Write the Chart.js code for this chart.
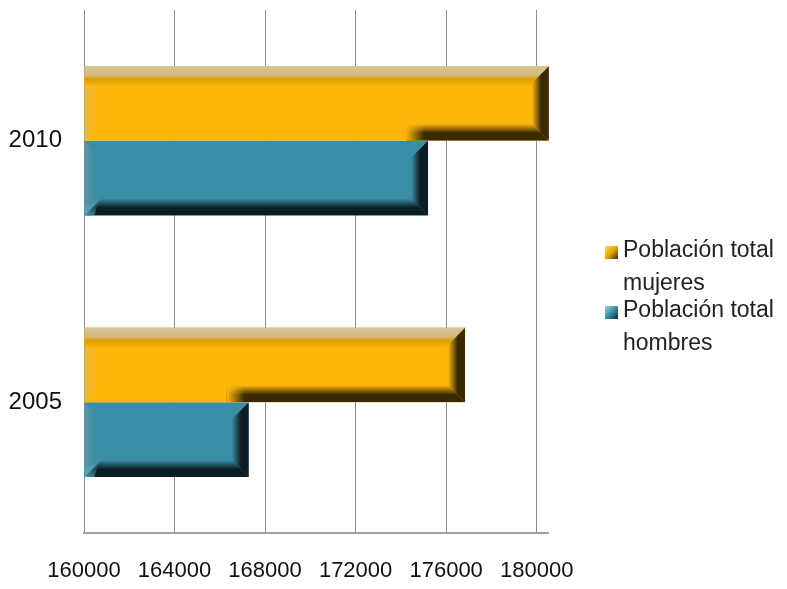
<!DOCTYPE html>
<html>
<head>
<meta charset="utf-8">
<script src="https://cdn.jsdelivr.net/npm/chart.js@4/dist/chart.umd.min.js"></script>
<style>
  body { margin: 0; background: #fff; }
</style>
</head>
<body>
<canvas id="barChart" width="787" height="589"></canvas>
<script>
const years = ["2010", "2005"];
const mujeres = [180540, 176840];
const hombres = [175200, 167280];
const xTicks = [160000, 164000, 168000, 172000, 176000, 180000];
const seriesNames = [["Población total", "mujeres"], ["Población total", "hombres"]];

const gold = {
  base: "#FDB70B", fade: "rgba(253,183,11,0)",
  left: "rgba(214,186,110,0.9)", top: true,
  dark: "rgba(48,34,0,0.95)", darkFade: "rgba(48,34,0,0)"
};
const teal = {
  base: "#3A8FA6", fade: "rgba(58,143,166,0)",
  left: "rgba(108,148,158,0.85)", top: false,
  dark: "rgba(10,26,32,0.97)", darkFade: "rgba(10,26,32,0)"
};

function barRect(el) {
  const p = el.getProps(["x", "y", "base", "height"], true);
  return {
    l: Math.min(p.x, p.base), r: Math.max(p.x, p.base),
    t: p.y - p.height / 2, b: p.y + p.height / 2
  };
}

function poly(ctx, pts, fill) {
  ctx.beginPath();
  ctx.moveTo(pts[0][0], pts[0][1]);
  for (let i = 1; i < pts.length; i++) ctx.lineTo(pts[i][0], pts[i][1]);
  ctx.closePath();
  ctx.fillStyle = fill;
  ctx.fill();
}

// fake the 3d bevel of the original bars
function shadeBar(ctx, el, pal, cutX) {
  const { l, r, t, b } = barRect(el);
  const e = 17;
  ctx.save();
  ctx.beginPath();
  ctx.rect(l, t, r - l, b - t);
  ctx.clip();

  // right edge
  let g = ctx.createLinearGradient(r - e, 0, r, 0);
  g.addColorStop(0, pal.darkFade);
  g.addColorStop(0.55, pal.dark);
  g.addColorStop(1, pal.dark);
  poly(ctx, [[r - e, t + e], [r, t], [r, b], [r - e, b - e]], g);

  // bottom edge
  let sx = cutX != null ? Math.min(cutX - 22, r - e) : l;
  g = ctx.createLinearGradient(0, b - e, 0, b);
  g.addColorStop(0, pal.darkFade);
  g.addColorStop(0.55, pal.dark);
  g.addColorStop(1, pal.dark);
  poly(ctx, [[sx + (cutX != null ? 0 : e), b - e], [r - e, b - e], [r, b], [sx, b]], g);
  if (cutX != null) {
    g = ctx.createLinearGradient(sx, 0, sx + 18, 0);
    g.addColorStop(0, pal.base);
    g.addColorStop(1, pal.fade);
    ctx.fillStyle = g;
    ctx.fillRect(sx, b - e, 18, e);
  }

  // left edge
  g = ctx.createLinearGradient(l, 0, l + 15, 0);
  g.addColorStop(0, pal.left);
  g.addColorStop(1, pal.fade);
  poly(ctx, [[l, t], [l + 15, t + 15], [l + 15, b - 15], [l, b]], g);
  if (!pal.top) {
    g = ctx.createLinearGradient(l, b, l + 14, b - 14);
    g.addColorStop(0, "rgba(80,170,195,0.9)");
    g.addColorStop(1, "rgba(80,170,195,0)");
    poly(ctx, [[l, b], [l, b - 10], [l + 14, b - 14], [l + 10, b]], g);
  }

  // top edge, light band
  if (pal.top) {
    g = ctx.createLinearGradient(0, t, 0, t + 22);
    g.addColorStop(0, "rgb(214,197,150)");
    g.addColorStop(0.42, "rgb(210,186,125)");
    g.addColorStop(0.58, "rgb(218,158,2)");
    g.addColorStop(0.8, "rgb(240,172,6)");
    g.addColorStop(1, pal.fade);
    poly(ctx, [[l, t], [r, t], [r - 22, t + 22], [l, t + 22]], g);
  }
  ctx.restore();
}

const bevel = {
  id: "bevel",
  afterDatasetsDraw(chart) {
    const ctx = chart.ctx;
    const m0 = chart.getDatasetMeta(0);
    const m1 = chart.getDatasetMeta(1);
    m0.data.forEach((el, i) => shadeBar(ctx, el, gold, barRect(m1.data[i]).r));
    m1.data.forEach((el) => shadeBar(ctx, el, teal, null));
  }
};

// legend with wrapped labels, drawn at the right of the plot
const sideLegend = {
  id: "sideLegend",
  afterDraw(chart) {
    const ctx = chart.ctx;
    const x0 = chart.chartArea.right + 57;
    const tops = [246, 306];
    const pals = [["#F4D480", "#E9A800", "#3A2800"], ["#A6CCD6", "#3A8FA6", "#0B2A33"]];
    ctx.save();
    seriesNames.forEach((lines, i) => {
      const y = tops[i];
      const g = ctx.createLinearGradient(x0, y, x0 + 13, y + 13);
      g.addColorStop(0, pals[i][0]);
      g.addColorStop(0.5, pals[i][1]);
      g.addColorStop(1, pals[i][2]);
      ctx.fillStyle = g;
      ctx.fillRect(x0, y, 13, 13);
      ctx.fillStyle = "#222";
      ctx.font = '23px "Liberation Sans", sans-serif';
      ctx.textBaseline = "middle";
      ctx.textAlign = "left";
      lines.forEach((txt, k) => ctx.fillText(txt, x0 + 18, y + 5 + k * 33));
    });
    ctx.restore();
  }
};

const ctx = document.getElementById("barChart");
const myChart = new Chart(ctx, {
  type: "bar",
  data: {
    labels: years,
    datasets: [
      {
        label: seriesNames[0].join(" "),
        data: mujeres,
        base: 160000,
        backgroundColor: gold.base,
        borderWidth: 0,
        clip: false,
        categoryPercentage: 0.571,
        barPercentage: 1,
      },
      {
        label: seriesNames[1].join(" "),
        data: hombres,
        base: 160000,
        backgroundColor: teal.base,
        borderWidth: 0,
        clip: false,
        categoryPercentage: 0.571,
        barPercentage: 1,
      },
    ],
  },
  options: {
    indexAxis: "y",
    responsive: false,
    animation: false,
    devicePixelRatio: 1,
    layout: { padding: { top: 10, right: 239, left: 0, bottom: 0 } },
    plugins: {
      legend: { display: false },
      tooltip: { enabled: false },
    },
    scales: {
      x: {
        min: 160000,
        max: 180500,
        afterBuildTicks: (axis) => { axis.ticks = xTicks.map((v) => ({ value: v })); },
        afterFit: (axis) => { axis.height = 56; axis.paddingTop = 0; },
        grid: { color: "#8a8a8a", lineWidth: 1, drawTicks: false },
        border: { display: true, color: "#a0a0a0", width: 2 },
        ticks: {
          padding: 25,
          color: "#111",
          maxRotation: 0,
          callback: (v) => String(v),
          font: { family: '"Liberation Sans", sans-serif', size: 22 },
        },
      },
      y: {
        afterFit: (axis) => { axis.width = 84; axis.paddingTop = 0; axis.paddingBottom = 0; },
        grid: { display: false, drawTicks: false },
        border: { display: false },
        ticks: {
          padding: 22,
          color: "#111",
          font: { family: '"Liberation Sans", sans-serif', size: 24 },
        },
      },
    },
  },
  plugins: [bevel, sideLegend],
});
</script>
</body>
</html>
